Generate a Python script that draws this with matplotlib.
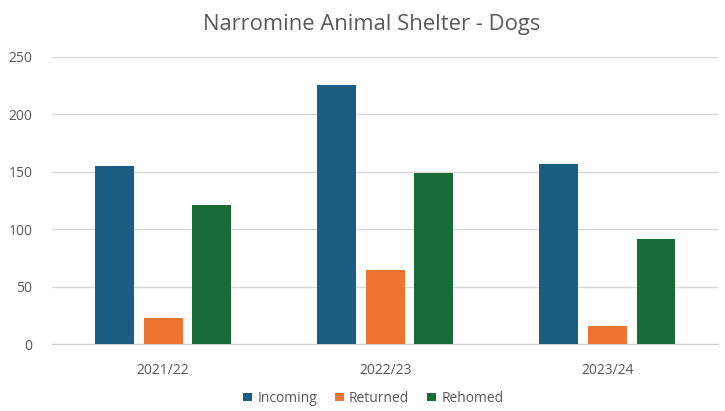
import numpy as np
import matplotlib.pyplot as plt

years = ['2021/22', '2022/23', '2023/24']
incoming = [155, 225, 157]
returned = [23, 64, 16]
rehomed = [121, 149, 91]

series = ['Incoming', 'Returned', 'Rehomed']
colors = ['#1b5e84', '#ee7431', '#176c38']

plt.rcParams['font.family'] = ['Open Sans', 'DejaVu Sans']

fig = plt.figure(figsize=(7.25, 4.11), dpi=100)
ax = fig.add_axes([0.0717, 0.163, 0.9193, 0.699])

x = np.arange(len(years))
width = 0.175
step = 0.219
for i, (name, vals) in enumerate(zip(series, [incoming, returned, rehomed])):
    ax.bar(x + (i - 1) * step, vals, width, color=colors[i], label=name, zorder=3)

ax.set_xlim(-0.5, 2.5)
ax.set_ylim(0, 250)
ax.set_yticks(range(0, 251, 50))
ax.set_xticks(x)
ax.set_xticklabels(years)
ax.grid(axis='y', color='#d9d9d9', linewidth=1, zorder=0)
for s in ['top', 'right', 'left']:
    ax.spines[s].set_visible(False)
ax.spines['bottom'].set_color('#d0d0d0')
ax.tick_params(length=0, colors='#595959', labelsize=10)
ax.tick_params(axis='y', pad=14)
ax.tick_params(axis='x', pad=14)

fig.suptitle('Narromine Animal Shelter - Dogs', x=0.512, y=0.965, fontsize=15.8, color='#595959')

fig.legend(loc='lower center', bbox_to_anchor=(0.515, -0.018), ncol=3, frameon=False,
           fontsize=10, labelcolor='#595959', handlelength=0.6, handleheight=0.6,
           handletextpad=0.4, columnspacing=1.3)

fig.savefig('out.png', dpi=100)
